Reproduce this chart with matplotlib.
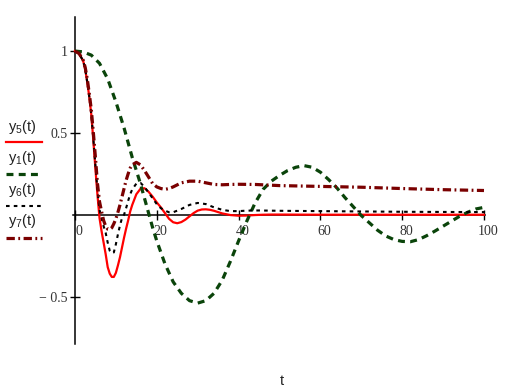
import matplotlib
matplotlib.use('Agg')
import matplotlib.pyplot as plt
from matplotlib.lines import Line2D
from matplotlib.transforms import ScaledTranslation

plt.rcParams['lines.scale_dashes'] = False
plt.rcParams['mathtext.default'] = 'regular'

# y5(t) - red solid
t5 = [0, 1, 2, 2.5, 3, 3.5, 4, 4.5, 5, 5.5, 6, 6.5, 7, 7.5, 8, 8.5, 9, 9.5, 10, 10.5,
      11, 11.5, 12, 12.5, 13, 13.5, 14, 15, 16, 17, 18, 19, 20, 21, 22, 23, 24, 25, 26,
      27, 28, 29, 30, 31, 32, 33, 34, 35, 36, 38, 40, 42, 44, 46, 48, 50, 60, 70, 80, 90, 100]
y5 = [1.0, 0.985, 0.94, 0.89, 0.81, 0.72, 0.61, 0.45, 0.28, 0.12, -0.02, -0.10, -0.17, -0.24,
      -0.32, -0.36, -0.38, -0.38, -0.355, -0.31, -0.26, -0.20, -0.14, -0.085, -0.035, 0.02,
      0.06, 0.125, 0.158, 0.162, 0.14, 0.11, 0.075, 0.045, 0.01, -0.025, -0.046, -0.052,
      -0.045, -0.03, -0.01, 0.01, 0.025, 0.032, 0.033, 0.03, 0.024, 0.016, 0.008, -0.002,
      -0.006, -0.005, -0.002, 0.0, 0.001, 0.001, 0.0, 0.0, 0.0, 0.0, 0.0]

# y1(t) - dark green dashed
t1 = [0, 2, 4, 6, 8, 10, 12, 13, 14, 15, 16, 17, 18, 19, 20, 22, 24, 26, 28, 30, 32, 34,
      36, 38, 40, 42, 44, 46, 48, 50, 52, 54, 56, 58, 60, 62, 64, 66, 68, 70, 72, 74, 76,
      78, 80, 82, 84, 86, 88, 90, 92, 94, 96, 98, 100]
y1 = [1.0, 0.995, 0.975, 0.925, 0.83, 0.69, 0.53, 0.44, 0.35, 0.27, 0.19, 0.10, 0.01, -0.08,
      -0.16, -0.30, -0.41, -0.48, -0.525, -0.54, -0.525, -0.48, -0.40, -0.285, -0.16, -0.04,
      0.07, 0.155, 0.205, 0.24, 0.27, 0.29, 0.30, 0.29, 0.26, 0.215, 0.165, 0.105, 0.05,
      -0.005, -0.05, -0.095, -0.13, -0.152, -0.163, -0.165, -0.152, -0.128, -0.10, -0.07,
      -0.04, -0.01, 0.015, 0.035, 0.045]

# y6(t) - black dotted
t6 = [0, 1, 2, 2.5, 3, 3.5, 4, 4.5, 5, 5.5, 6, 6.5, 7, 7.5, 8, 8.5, 9, 9.5, 10, 10.5, 11,
      11.5, 12, 12.5, 13, 13.5, 14, 15, 16, 17, 18, 19, 20, 21, 22, 23, 24, 26, 28, 30, 32,
      34, 36, 38, 40, 42, 45, 50, 60, 70, 80, 90, 100]
y6 = [1.0, 0.985, 0.94, 0.89, 0.81, 0.72, 0.61, 0.46, 0.30, 0.15, 0.03, -0.02, -0.07, -0.11,
      -0.17, -0.22, -0.235, -0.23, -0.18, -0.12, -0.065, -0.02, 0.0, 0.04, 0.085, 0.125,
      0.155, 0.19, 0.195, 0.17, 0.135, 0.10, 0.065, 0.04, 0.025, 0.015, 0.015, 0.035, 0.06,
      0.072, 0.065, 0.045, 0.03, 0.022, 0.022, 0.025, 0.026, 0.024, 0.022, 0.02, 0.018,
      0.017, 0.016]

# y7(t) - dark red dash-dot
t7 = [0, 1, 2, 2.5, 3, 3.5, 4, 4.5, 5, 5.5, 6, 6.5, 7, 7.5, 8, 8.5, 9, 9.5, 10, 10.5, 11,
      11.5, 12, 12.5, 13, 13.5, 14, 15, 16, 17, 18, 19, 20, 21, 22, 23, 24, 26, 28, 30, 32,
      34, 36, 38, 40, 44, 50, 60, 70, 80, 90, 100]
y7 = [1.0, 0.985, 0.945, 0.90, 0.83, 0.74, 0.64, 0.50, 0.35, 0.19, 0.08, 0.02, -0.035, -0.07,
      -0.088, -0.09, -0.08, -0.055, -0.025, 0.015, 0.06, 0.11, 0.16, 0.21, 0.25, 0.285,
      0.305, 0.32, 0.305, 0.27, 0.23, 0.19, 0.17, 0.16, 0.155, 0.16, 0.17, 0.195, 0.205,
      0.205, 0.195, 0.185, 0.183, 0.185, 0.186, 0.185, 0.178, 0.173, 0.168, 0.16, 0.153, 0.148]

xticks = [0, 20, 40, 60, 80, 100]
yticks = [-0.5, 0.5, 1]
ytick_labels = ['\u2212 0.5', '0.5', '1']

RED = '#ff0000'
GREEN = '#0a440a'
DKRED = '#7a0000'

fig = plt.figure(figsize=(5.1, 3.9), dpi=100)
ax = fig.add_axes([0.1422, 0.1179, 0.8084, 0.8393])

ax.plot(t5, y5, color=RED, lw=1.6, zorder=3)
ax.plot(t1, y1, color=GREEN, lw=2.3, dashes=(5, 3.8), zorder=4)
ax.plot(t6, y6, color='black', lw=1.5, dashes=(2.6, 3.0), zorder=5)
ax.plot(t7, y7, color=DKRED, lw=2.3, dashes=(6, 2.5, 1.3, 2.5), zorder=6)

ax.set_xlim(-0.6, 100.2)
ax.set_ylim(-0.79, 1.21)
for s in ['top', 'right']:
    ax.spines[s].set_visible(False)
ax.spines['left'].set_position(('data', 0))
ax.spines['bottom'].set_position(('data', 0))
ax.spines['left'].set_linewidth(1.1)
ax.spines['bottom'].set_linewidth(1.1)

ax.set_xticks(xticks, [str(v) for v in xticks])
ax.set_yticks(yticks, ytick_labels)
ax.tick_params(direction='inout', length=7, width=1, colors='black', labelsize=10,
               labelcolor='#333333')
ax.tick_params(axis='x', pad=4)
ax.tick_params(axis='y', pad=2)
for lab in ax.get_xticklabels() + ax.get_yticklabels():
    lab.set_family('Liberation Serif')
offset = ScaledTranslation(4 / 100, 0, fig.dpi_scale_trans)
for lab in ax.get_xticklabels():
    lab.set_transform(lab.get_transform() + offset)

# legend on the left, Mathcad style
legend_items = [
    (r'y$_5$(t)', dict(color=RED, lw=1.6), 127, 142),
    (r'y$_1$(t)', dict(color=GREEN, lw=2.3, dashes=(5, 3.8)), 158, 174),
    (r'y$_6$(t)', dict(color='black', lw=1.5, dashes=(2.6, 3.0)), 190, 206),
    (r'y$_7$(t)', dict(color=DKRED, lw=2.3, dashes=(6, 2.5, 1.3, 2.5)), 221, 238),
]
W, H = 510, 390
for label, style, ty, ly in legend_items:
    fig.text(8 / W, 1 - ty / H, label, ha='left', va='center', fontsize=10.5,
             family='Liberation Sans', color='#222222')
    fig.add_artist(Line2D([6 / W, 42 / W], [1 - ly / H, 1 - ly / H],
                          transform=fig.transFigure, **style))

fig.text(282 / W, 1 - 381 / H, 't', ha='center', va='center', fontsize=10.5,
         family='Liberation Sans', color='#222222')

fig.savefig('out.png', dpi=100)
